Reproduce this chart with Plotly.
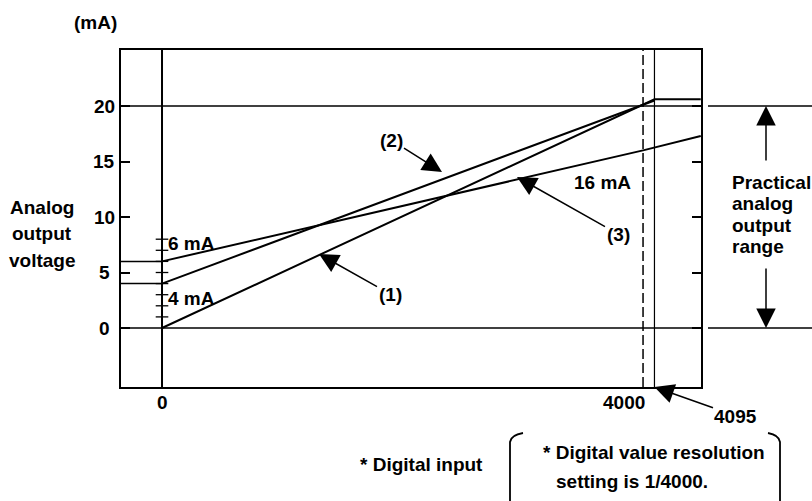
import plotly.graph_objects as go

# ---------------- data ----------------
digital_ticks = [0, 4000]
digital_tick_labels = ["0", "4000"]
digital_max = 4095

ma_ticks = [0, 5, 10, 15, 20]
ma_tick_labels = ["0", "5", "10", "15", "20"]

# (1) 0..20 mA, (2) 4..20 mA, (3) 6..16 mA
line1_x = [0, 4095, 4480]
line1_y = [0, 20.6, 20.6]
line2_x = [0, 4095]
line2_y = [4, 20.5]
line3_x = [0, 4000, 4480]
line3_y = [6, 16, 17.3]

small_ticks_ma = [1, 2, 3, 4, 5, 6, 7, 8]
offset_levels = [4, 6]
range_limits = [0, 20]

# ---------------- layout geometry ----------------
W, H = 812, 501
L, R, T, B = 121, 701, 50, 387          # plot area in pixels
X_RANGE = [-341, 4482]
Y_RANGE = [-5.315, 25.045]

def px_paper_x(px):
    return (px - L) / (R - L)

def px_paper_y(py):
    return (B - py) / (B - T)

def px_data_x(px):
    return X_RANGE[0] + (px - L) / (R - L) * (X_RANGE[1] - X_RANGE[0])

def px_data_y(py):
    return Y_RANGE[0] + (B - py) / (B - T) * (Y_RANGE[1] - Y_RANGE[0])

FONT = "Liberation Sans, Arial, sans-serif"
FS = 19
BLACK = "#000000"
TFONT = dict(family=FONT, size=FS, color=BLACK, weight="bold")
ARROW = dict(arrowhead=2, arrowsize=2.6, arrowwidth=1.5, arrowcolor=BLACK)

fig = go.Figure()

for xs, ys in [(line1_x, line1_y), (line2_x, line2_y), (line3_x, line3_y)]:
    fig.add_trace(go.Scatter(x=xs, y=ys, mode="lines",
                             line=dict(color=BLACK, width=2),
                             showlegend=False, hoverinfo="skip"))

# small ticks on the 0-digital vertical line
fig.add_trace(go.Scatter(x=[0] * len(small_ticks_ma), y=small_ticks_ma, mode="markers",
                         marker=dict(symbol="line-ew-open", size=9, color=BLACK,
                                     line=dict(color=BLACK, width=1.3)),
                         showlegend=False, hoverinfo="skip"))

shapes = []
# vertical lines
shapes.append(dict(type="line", xref="x", yref="paper", x0=digital_ticks[0], x1=digital_ticks[0],
                   y0=0, y1=1, line=dict(color=BLACK, width=2)))
shapes.append(dict(type="line", xref="x", yref="paper", x0=digital_ticks[1], x1=digital_ticks[1],
                   y0=0, y1=1, line=dict(color=BLACK, width=1.5, dash="10px,4px")))
shapes.append(dict(type="line", xref="x", yref="paper", x0=digital_max, x1=digital_max,
                   y0=0, y1=1, line=dict(color=BLACK, width=1.2)))
# horizontal range lines (inside and outside the frame)
for lv in range_limits:
    shapes.append(dict(type="line", xref="paper", yref="y", x0=0, x1=1, y0=lv, y1=lv,
                       line=dict(color=BLACK, width=1.5)))
    yp = (lv - Y_RANGE[0]) / (Y_RANGE[1] - Y_RANGE[0])
    shapes.append(dict(type="line", xref="paper", yref="paper",
                       x0=px_paper_x(708), x1=px_paper_x(812), y0=yp, y1=yp,
                       line=dict(color=BLACK, width=1.5)))
# offset level stubs left of digital 0
for lv in offset_levels:
    shapes.append(dict(type="line", xref="x", yref="y", x0=X_RANGE[0], x1=0, y0=lv, y1=lv,
                       line=dict(color=BLACK, width=1.5)))

# brackets around the note
lb = "M {a},{b} L {c},{d} Q {e},{f} {g},{h}".format(
    a=px_paper_x(510), b=px_paper_y(505), c=px_paper_x(510), d=px_paper_y(442),
    e=px_paper_x(511), f=px_paper_y(435), g=px_paper_x(523), h=px_paper_y(433))
rb = "M {a},{b} Q {c},{d} {e},{f} L {g},{h}".format(
    a=px_paper_x(768), b=px_paper_y(433), c=px_paper_x(779), d=px_paper_y(435),
    e=px_paper_x(780), f=px_paper_y(442), g=px_paper_x(780), h=px_paper_y(505))
for p in (lb, rb):
    shapes.append(dict(type="path", xref="paper", yref="paper", path=p,
                       line=dict(color=BLACK, width=1.8)))

ann = []
def text(x, y, s, xref="x", yref="y", xanchor="center", yanchor="middle"):
    ann.append(dict(x=x, y=y, xref=xref, yref=yref, text=s, showarrow=False,
                    xanchor=xanchor, yanchor=yanchor, font=TFONT))

def arrow_text(x, y, s, ax, ay, xref="x", yref="y"):
    ann.append(dict(x=x, y=y, xref=xref, yref=yref, text=s, showarrow=True,
                    ax=ax, ay=ay, standoff=0, font=TFONT, **ARROW))

# axis unit
text(px_paper_x(95), px_paper_y(22), "(mA)", xref="paper", yref="paper")
# y tick labels (centered, as in the original)
for v, s in zip(ma_ticks, ma_tick_labels):
    text(px_paper_x(104), v, s, xref="paper", yref="y")
# y title lines
for s, py in zip(["Analog", "output", "voltage"], [207, 233, 260]):
    text(px_paper_x(42), px_paper_y(py), s, xref="paper", yref="paper")
# x tick labels
text(digital_ticks[0], px_paper_y(402), digital_tick_labels[0], yref="paper")
ann.append(dict(x=digital_ticks[1], y=px_paper_y(402), xref="x", yref="paper",
                text=digital_tick_labels[1], showarrow=False, xanchor="right", yanchor="middle",
                xshift=4, font=TFONT))
# level labels
text(px_data_x(166), px_data_y(243), "6 mA", xanchor="left")
text(px_data_x(166), px_data_y(298), "4 mA", xanchor="left")
text(px_data_x(602), px_data_y(182), "16 mA")
# numbered line callouts
arrow_text(px_data_x(442), px_data_y(172), "(2)", ax=391 - 442, ay=140 - 172)
arrow_text(px_data_x(517), px_data_y(177), "(3)", ax=618 - 517, ay=234 - 177)
arrow_text(px_data_x(319), px_data_y(254), "(1)", ax=390 - 319, ay=294 - 254)
# 4095 callout
x4095_px = L + (digital_max - X_RANGE[0]) / (X_RANGE[1] - X_RANGE[0]) * (R - L)
ann.append(dict(x=digital_max, y=0, xref="x", yref="paper", text=str(digital_max),
                showarrow=True, ax=736 - x4095_px, ay=416 - B, font=TFONT, **ARROW))
# practical range arrows and text
ann.append(dict(x=px_paper_x(766), y=range_limits[1], xref="paper", yref="y", text="",
                showarrow=True, ax=0, ay=162 - 106, **ARROW))
ann.append(dict(x=px_paper_x(766), y=range_limits[0], xref="paper", yref="y", text="",
                showarrow=True, ax=0, ay=267 - 328, **ARROW))
for s, py in zip(["Practical", "analog", "output", "range"], [182, 203, 225, 246]):
    text(px_paper_x(730), px_paper_y(py), s, xref="paper", yref="paper", xanchor="left")
# bottom notes
text(px_paper_x(485), px_paper_y(464), "* Digital input", xref="paper", yref="paper", xanchor="right")
text(px_paper_x(541), px_paper_y(452), "* Digital value resolution", xref="paper", yref="paper", xanchor="left")
text(px_paper_x(554), px_paper_y(481), "setting is 1/4000.", xref="paper", yref="paper", xanchor="left")

fig.update_layout(
    width=W, height=H,
    margin=dict(l=L, r=W - R, t=T, b=H - B, pad=0),
    paper_bgcolor="white", plot_bgcolor="white",
    font=TFONT,
    shapes=shapes, annotations=ann,
    xaxis=dict(range=X_RANGE, showgrid=False, zeroline=False, showline=True,
               linecolor=BLACK, linewidth=2, mirror=True, ticks="",
               showticklabels=False, fixedrange=True),
    yaxis=dict(range=Y_RANGE, showgrid=False, zeroline=False, showline=True,
               linecolor=BLACK, linewidth=2, mirror="ticks", ticks="inside",
               ticklen=9, tickwidth=1.5, tickcolor=BLACK,
               tickvals=ma_ticks, showticklabels=False, fixedrange=True),
)

fig.write_html("out.html", config={"displayModeBar": False},
               post_script="document.body.style.margin='0';document.body.style.padding='0';")
